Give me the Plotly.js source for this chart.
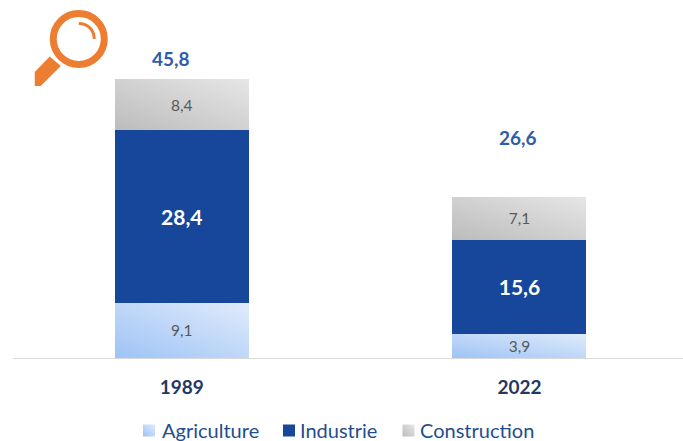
<!DOCTYPE html>
<html>
<head>
<meta charset="utf-8">
<script src="https://cdn.plot.ly/plotly-3.0.1.min.js"></script>
<style>html,body{margin:0;padding:0;background:#fff;overflow:hidden}</style>
</head>
<body>
<div id="chart" style="width:683px;height:441px"></div>
<script>
const years = ['1989', '2022'];
const agriculture = [9.1, 3.9];
const industrie = [28.4, 15.6];
const construction = [8.4, 7.1];
const totals = [45.8, 26.6];
const totalLabelY = [49.3, 36.3];
const totalLabelX = [-0.033, -0.003];
const FONT = 'Lato, Carlito, sans-serif';
const W = 683, H = 441, L = 13.25, B = 82.5;
const px = x => (x - L) / (W - L);
const py = y => (H - B - y) / (H - B);

function bar(name, vals, color, fontColor, size, bold) {
  return {
    type: 'bar', name, x: years, y: vals, width: 0.397,
    marker: {color, line: {width: 0}},
    texttemplate: bold ? '<b>%{y:.1f}</b>' : '%{y:.1f}',
    textposition: 'inside', insidetextanchor: 'middle', textangle: 0,
    insidetextfont: {family: FONT, size, color: fontColor},
    constraintext: 'none', hoverinfo: 'skip'
  };
}
const traces = [
  bar('Agriculture', agriculture, '#c6dbf8', '#595959', 15.5, false),
  bar('Industrie', industrie, '#17479b', '#ffffff', 21, true),
  bar('Construction', construction, '#d6d6d6', '#595959', 15.5, false)
];
const orange = '#ed7d31';
const layout = {
  width: W, height: H, barmode: 'stack', separators: ',.',
  paper_bgcolor: '#fff', plot_bgcolor: '#fff',
  margin: {l: L, r: 0, t: 0, b: B, pad: 0, autoexpand: false},
  font: {family: FONT},
  showlegend: true,
  legend: {orientation: 'h', x: 0.5, xref: 'container', xanchor: 'center', y: 0, yref: 'container', yanchor: 'bottom',
    font: {family: FONT, size: 20, color: '#1f4e8c'}, itemwidth: 30, traceorder: 'normal', itemclick: false, itemdoubleclick: false},
  xaxis: {type: 'category', range: [-0.5, -0.5 + (W - L) / 337.5], showgrid: false, zeroline: false,
    showline: true, linecolor: '#d9d9d9', linewidth: 1, ticks: 'outside', ticklen: 12, tickcolor: 'rgba(0,0,0,0)',
    tickfont: {family: FONT, size: 19, color: '#1f3864'}, tickprefix: '<b>', ticksuffix: '</b>', automargin: false},
  yaxis: {range: [0, (H - B) / 6.08], visible: false, fixedrange: true},
  annotations: years.map((y, i) => ({
    x: i + totalLabelX[i], y: totalLabelY[i], xref: 'x', yref: 'y', showarrow: false,
    text: '<b>' + totals[i].toFixed(1).replace('.', ',') + '</b>',
    font: {family: FONT, size: 19, color: '#2f5cad'}
  })),
  shapes: [
    {type: 'path', xref: 'paper', yref: 'paper', layer: 'above', fillcolor: orange, line: {width: 0},
      path: `M${px(50)},${py(56.5)}L${px(61)},${py(66)}L${px(41)},${py(86)}L${px(35)},${py(86)}L${px(35)},${py(72)}Z`},
    {type: 'circle', xref: 'paper', yref: 'paper', layer: 'above', fillcolor: 'rgba(0,0,0,0)',
      line: {color: orange, width: 7}, x0: px(53.5), x1: px(104.5), y0: py(64.5), y1: py(13.5)},
    {type: 'path', xref: 'paper', yref: 'paper', layer: 'above', line: {color: orange, width: 3},
      path: `M${px(79)},${py(23.5)}C${px(88)},${py(23.5)} ${px(94.5)},${py(30)} ${px(94.5)},${py(39)}`}
  ]
};

Plotly.newPlot('chart', traces, layout, {displayModeBar: false, staticPlot: true}).then(gd => {
  const NS = 'http://www.w3.org/2000/svg';
  const svg = gd.querySelector('svg.main-svg');
  const defs = svg.querySelector('defs');
  function grad(id, from, to) {
    const g = document.createElementNS(NS, 'linearGradient');
    g.id = id;
    g.setAttribute('x1', '0'); g.setAttribute('y1', '1');
    g.setAttribute('x2', '1'); g.setAttribute('y2', '0');
    [[0, from], [1, to]].forEach(([o, c]) => {
      const s = document.createElementNS(NS, 'stop');
      s.setAttribute('offset', o); s.setAttribute('stop-color', c);
      g.appendChild(s);
    });
    defs.appendChild(g);
  }
  grad('gradAgri', '#9ec3f5', '#e0ebfb');
  grad('gradCons', '#bcbcbc', '#e6e6e6');
  const traceEls = gd.querySelectorAll('.barlayer .trace');
  const apply = (el, id) => el.querySelectorAll('path').forEach(p => { p.style.fill = 'url(#' + id + ')'; });
  traceEls[0].querySelectorAll('.point').forEach(e => apply(e, 'gradAgri'));
  traceEls[2].querySelectorAll('.point').forEach(e => apply(e, 'gradCons'));
  const legs = gd.querySelectorAll('.legend .traces');
  apply(legs[0].querySelector('.legendpoints'), 'gradAgri');
  apply(legs[2].querySelector('.legendpoints'), 'gradCons');

  // Place the legend entries where the reference has them (below Plotly's clamp to the page).
  const legend = gd.querySelector('.legend');
  const m = /translate\(([-\d.]+),\s*([-\d.]+)\)/.exec(legend.getAttribute('transform'));
  const ly = parseFloat(m[2]);
  legend.setAttribute('transform', `translate(0,${ly + 9})`);
  const sb = legend.querySelector('.scrollbox');
  if (sb) sb.removeAttribute('clip-path');
  legend.removeAttribute('clip-path');
  const swatchCx = [149, 289, 408.5], textX = [162, 300, 420];
  legs.forEach((tr, i) => {
    const t = /translate\(([-\d.]+),\s*([-\d.]+)\)/.exec(tr.getAttribute('transform'));
    const ox = swatchCx[i] - 20;
    tr.setAttribute('transform', `translate(${ox},${t[2]})`);
    const txt = tr.querySelector('.legendtext');
    txt.setAttribute('x', textX[i] - ox);
  });
});
</script>
</body>
</html>
